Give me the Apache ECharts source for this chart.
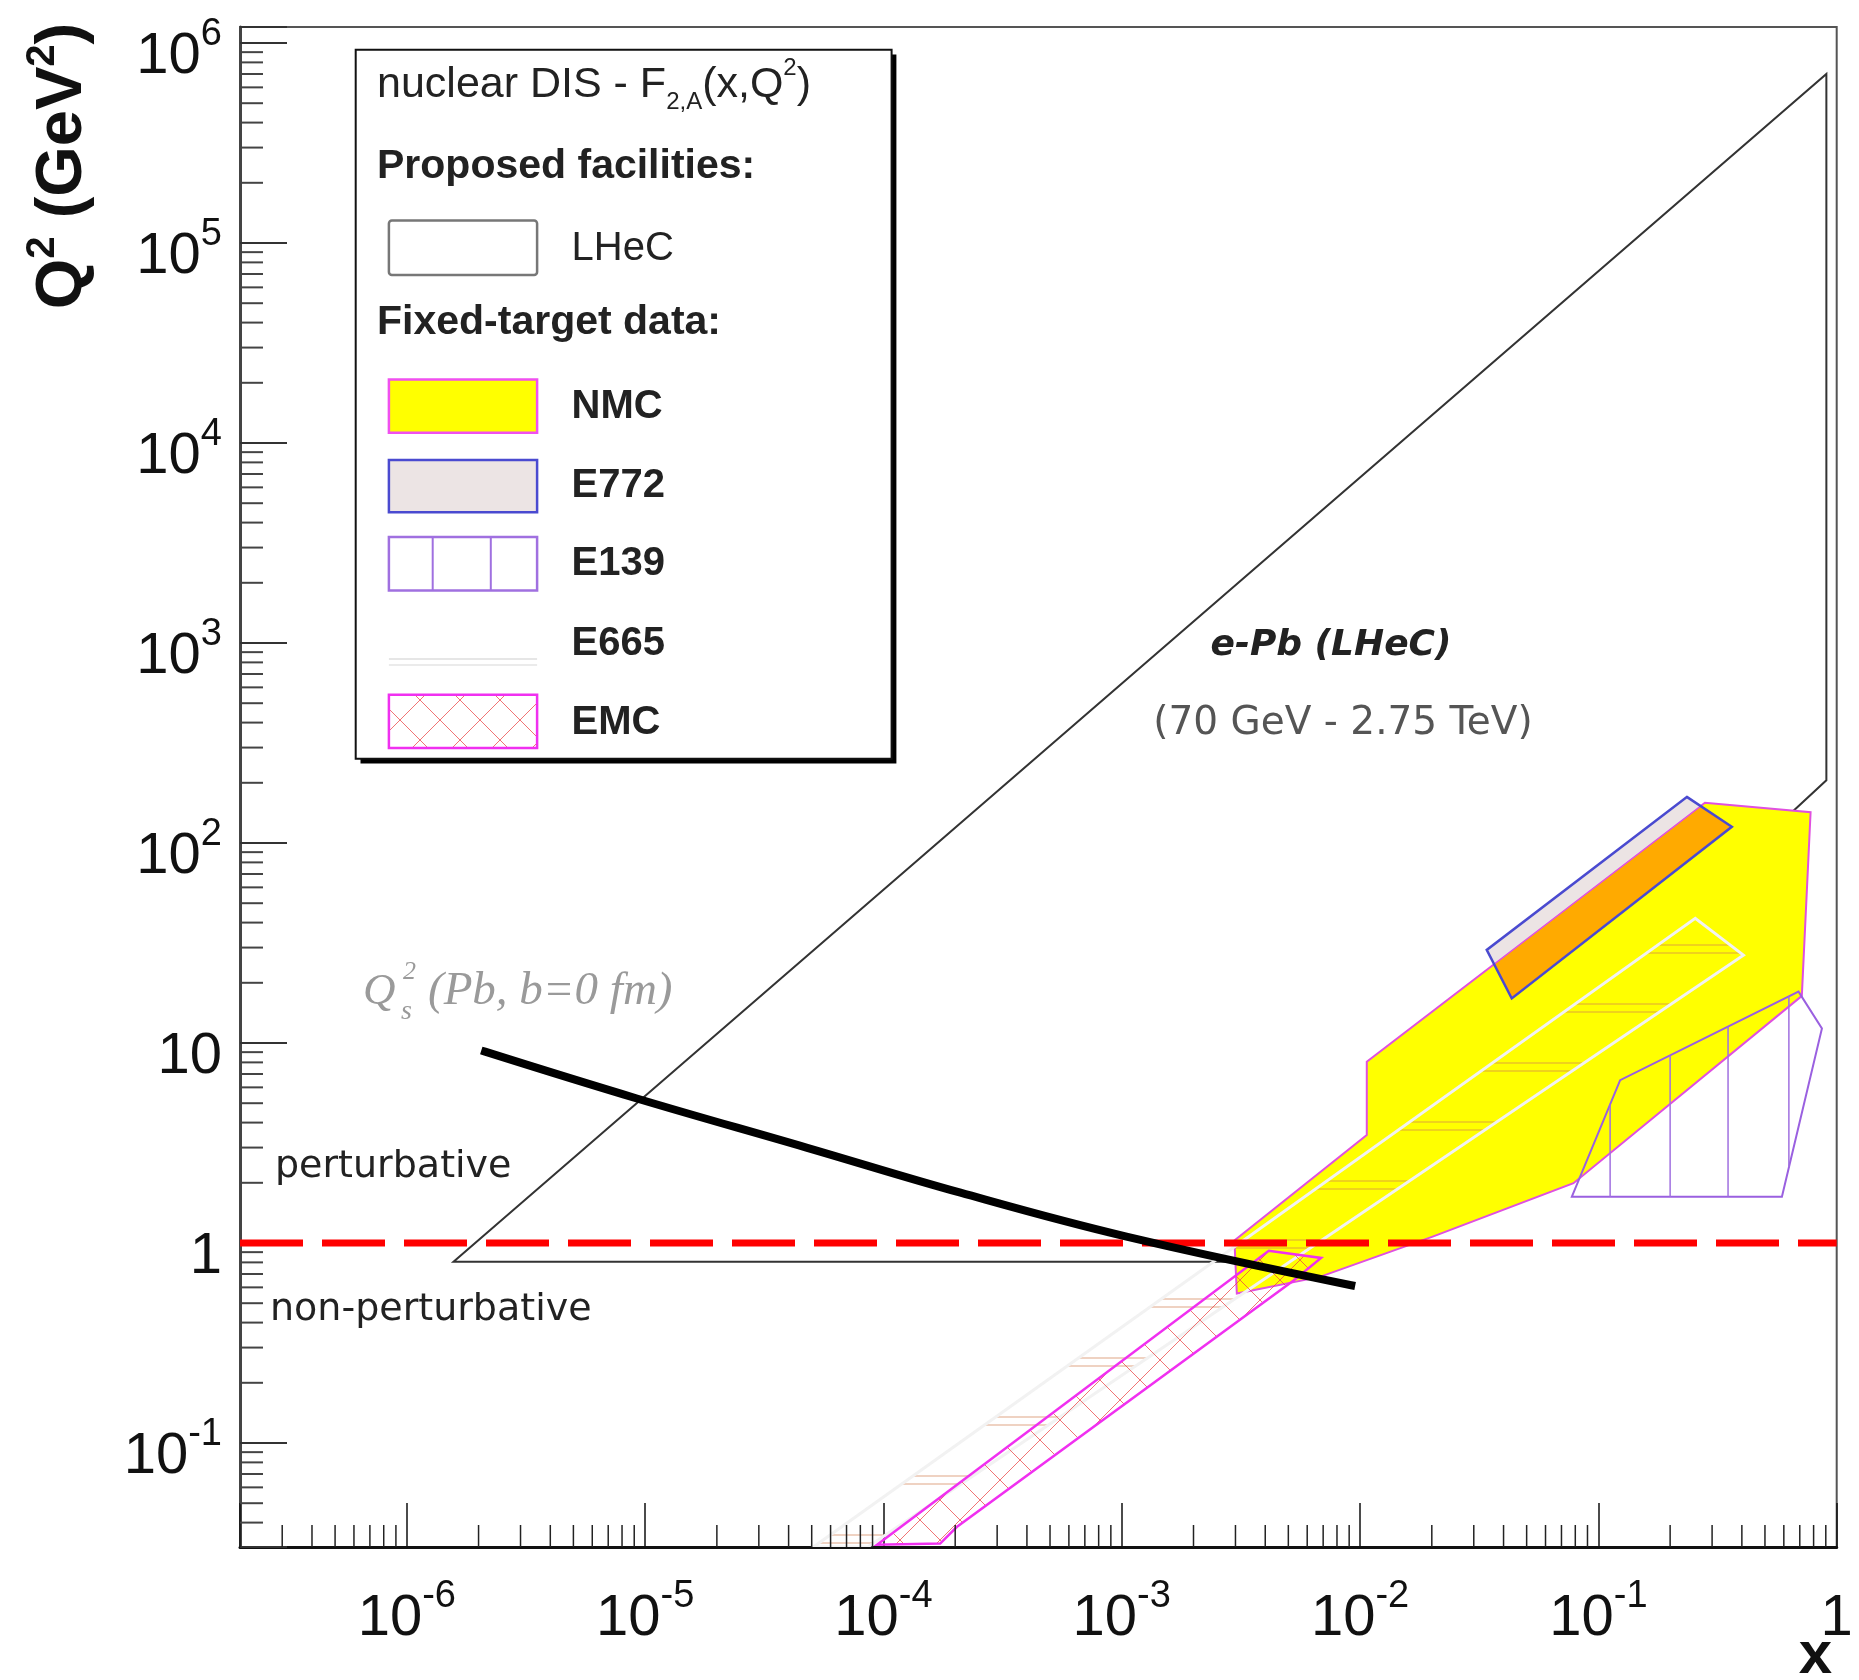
<!DOCTYPE html>
<html><head><meta charset="utf-8">
<script src="https://cdn.jsdelivr.net/npm/echarts@6/dist/echarts.min.js"></script>
<style>html,body{margin:0;padding:0;background:#fff}#c{width:1859px;height:1680px}</style>
</head><body><div id="c"></div>
<script>
// ---------------- data ----------------
const xRange = [Math.pow(10, -6.7), 1];
const yRange = [Math.pow(10, -1.52), Math.pow(10, 6.08)];
const xTickDecades = [-7, -6, -5, -4, -3, -2, -1];
const yTickDecades = [-2, -1, 0, 1, 2, 3, 4, 5, 6];
const minorMultipliers = [2, 3, 4, 5, 6, 7, 8, 9];

// polygons: [x, Q2] vertices
const lhecRegion = [[1.57e-6, 0.806], [0.905, 7.0e5], [0.905, 206], [6.0e-3, 0.806]];
const nmcRegion = [[3.04e-3, 0.559], [2.97e-3, 1.03], [0.01067, 3.47], [0.01067, 8.06], [0.28, 159],
                   [0.777, 142.6], [0.714, 17.2], [0.0786, 1.99], [0.0203, 1.08], [6.78e-3, 0.677]];
const e772Region = [[0.235, 170], [0.363, 120.5], [0.0433, 16.7], [0.034, 29.2]];
const e139Region = [[0.0774, 1.705], [0.1234, 6.52], [0.6915, 18.06], [0.867, 11.83], [0.589, 1.705]];
const e139HatchX = [0.112, 0.2, 0.35, 0.63];
const e665Region = [[5.08e-5, 0.0302], [0.255, 42], [0.406, 27.5], [8.6e-5, 0.0302]];
const emcRegion = [[9.4e-5, 0.031], [4.14e-3, 0.914], [6.86e-3, 0.842], [5.26e-3, 0.65], [2.03e-4, 0.038], [1.73e-4, 0.0314]];

// saturation scale curve Q_s^2 (Pb, b=0 fm)
const qsX = [2.13e-6, 9.23e-6, 4.75e-5, 2.105e-4, 1.047e-3, 9.18e-3];
const qsQ2 = [9.05, 5.28, 3.0, 1.784, 1.076, 0.615];
// perturbative / non-perturbative boundary
const pertBoundaryQ2 = 1;

// ---------------- helpers ----------------
function makeCanvas(w, h, draw) {
  const c = document.createElement('canvas'); c.width = w; c.height = h;
  draw(c.getContext('2d')); return c;
}
const hatchE665 = makeCanvas(8, 59, g => {
  g.fillStyle = 'rgba(210,125,80,0.35)';
  g.fillRect(0, 0, 8, 2); g.fillRect(0, 8, 8, 2);
});
const hatchEMC = makeCanvas(40, 40, g => {
  g.strokeStyle = 'rgba(235,70,70,0.75)'; g.lineWidth = 1;
  g.beginPath(); g.moveTo(0, 0); g.lineTo(40, 40); g.moveTo(40, 0); g.lineTo(0, 40); g.stroke();
});
const patE665 = { image: hatchE665, repeat: 'repeat' };
const patEMC = { image: hatchEMC, repeat: 'repeat' };

function clipConvex(subject, clip) {
  let area = 0;
  for (let i = 0; i < clip.length; i++) {
    const a = clip[i], b = clip[(i + 1) % clip.length];
    area += a[0] * b[1] - b[0] * a[1];
  }
  const sgn = area > 0 ? 1 : -1;
  let out = subject.slice();
  for (let i = 0; i < clip.length && out.length; i++) {
    const A = clip[i], B = clip[(i + 1) % clip.length];
    const inside = p => sgn * ((B[0] - A[0]) * (p[1] - A[1]) - (B[1] - A[1]) * (p[0] - A[0])) >= 0;
    const inter = (P, Q) => {
      const a1 = B[1] - A[1], b1 = A[0] - B[0], c1 = a1 * A[0] + b1 * A[1];
      const a2 = Q[1] - P[1], b2 = P[0] - Q[0], c2 = a2 * P[0] + b2 * P[1];
      const det = a1 * b2 - a2 * b1;
      return [(b2 * c1 - b1 * c2) / det, (a1 * c2 - a2 * c1) / det];
    };
    const inp = out; out = [];
    for (let j = 0; j < inp.length; j++) {
      const E = inp[j], S = inp[(j + inp.length - 1) % inp.length];
      if (inside(E)) { if (!inside(S)) out.push(inter(S, E)); out.push(E); }
      else if (inside(S)) out.push(inter(S, E));
    }
  }
  return out;
}
function verticalChord(pts, px) {
  const ys = [];
  for (let i = 0; i < pts.length; i++) {
    const P = pts[i], Q = pts[(i + 1) % pts.length];
    if ((P[0] - px) * (Q[0] - px) <= 0 && P[0] !== Q[0]) ys.push(P[1] + (px - P[0]) * (Q[1] - P[1]) / (Q[0] - P[0]));
  }
  if (ys.length < 2) return null;
  return [Math.min.apply(null, ys), Math.max.apply(null, ys)];
}
function polySeries(name, verts, z, build) {
  return {
    name, type: 'custom', coordinateSystem: 'cartesian2d', data: [verts[0]], z, silent: true, clip: true,
    renderItem: (params, api) => build(verts.map(v => api.coord(v)), api)
  };
}

const xMinor = [], yMinor = [];
xTickDecades.forEach(d => minorMultipliers.forEach(m => { const v = m * Math.pow(10, d); if (v > xRange[0] && v < xRange[1]) xMinor.push(v); }));
yTickDecades.forEach(d => minorMultipliers.forEach(m => { const v = m * Math.pow(10, d); if (v > yRange[0] && v < yRange[1]) yMinor.push(v); }));

const FONT = '"Liberation Sans", Arial, Helvetica, sans-serif';
const tickRich = {
  b: { fontSize: 58, fontFamily: FONT, color: '#111', lineHeight: 70, verticalAlign: 'bottom' },
  s: { fontSize: 38, fontFamily: FONT, color: '#111', lineHeight: 20, verticalAlign: 'top' }
};
function tickFmt(v) {
  const l = Math.log10(v), e = Math.round(l);
  if (Math.abs(l - e) > 1e-6) return '';
  if (e === 0) return '{b|1}';
  if (e === 1) return '{b|10}';
  return '{b|10}{s|' + e + '}';
}

// ---------------- chart ----------------
const chart = echarts.init(document.getElementById('c'), null, { renderer: 'canvas', width: 1859, height: 1680 });

const series = [
  polySeries('LHeC', lhecRegion, 2, pts => ({ type: 'polygon', shape: { points: pts }, style: { fill: '#ffffff', stroke: '#333', lineWidth: 2 } })),
  polySeries('NMC', nmcRegion, 3, pts => ({ type: 'polygon', shape: { points: pts }, style: { fill: '#ffff00', stroke: '#e050e0', lineWidth: 2 } })),
  polySeries('E772', e772Region, 4, (pts, api) => {
    const nmcPts = nmcRegion.map(v => api.coord(v));
    const overlap = clipConvex(nmcPts, pts);
    return {
      type: 'group', children: [
        { type: 'polygon', shape: { points: pts }, style: { fill: '#ece4e4', stroke: null } },
        { type: 'polygon', shape: { points: overlap }, style: { fill: '#ffaa00', stroke: '#e050e0', lineWidth: 1.5 } },
        { type: 'polygon', shape: { points: pts }, style: { fill: null, stroke: '#4a4ad0', lineWidth: 2.5 } }
      ]
    };
  }),
  polySeries('E665', e665Region, 6, pts => ({ type: 'polygon', shape: { points: pts }, style: { fill: patE665, stroke: '#f2f2f2', lineWidth: 3 } })),
  polySeries('E139', e139Region, 7, (pts, api) => {
    const children = [{ type: 'polygon', shape: { points: pts }, style: { fill: null, stroke: '#9a60e0', lineWidth: 2 } }];
    e139HatchX.forEach(hx => {
      const px = api.coord([hx, 1])[0];
      const ch = verticalChord(pts, px);
      if (ch) children.push({ type: 'line', shape: { x1: px, y1: ch[0], x2: px, y2: ch[1] }, style: { stroke: '#a070e0', lineWidth: 1.5 } });
    });
    return { type: 'group', children };
  }),
  polySeries('EMC', emcRegion, 8, pts => ({ type: 'polygon', shape: { points: pts }, style: { fill: patEMC, stroke: '#f030f0', lineWidth: 2.5 } })),
  {
    name: 'boundary', type: 'line', z: 9, silent: true, showSymbol: false, symbol: 'none',
    data: [[xRange[0], pertBoundaryQ2], [xRange[1], pertBoundaryQ2]],
    lineStyle: { color: '#ff0000', width: 7, type: [63, 19] }
  },
  {
    name: 'Qs', type: 'line', z: 10, silent: true, showSymbol: false, symbol: 'none', smooth: 0.4,
    data: qsX.map((x, i) => [x, qsQ2[i]]),
    lineStyle: { color: '#000', width: 8, cap: 'square' }
  },
  {
    name: 'xMinor', type: 'custom', coordinateSystem: 'cartesian2d', z: 20, silent: true, clip: false,
    data: xMinor.map(v => [v, yRange[0]]),
    renderItem: (p, api) => { const pt = api.coord([api.value(0), api.value(1)]); return { type: 'line', shape: { x1: pt[0], y1: pt[1], x2: pt[0], y2: pt[1] - 22 }, style: { stroke: '#222', lineWidth: 1.5 } }; }
  },
  {
    name: 'yMinor', type: 'custom', coordinateSystem: 'cartesian2d', z: 20, silent: true, clip: false,
    data: yMinor.map(v => [xRange[0], v]),
    renderItem: (p, api) => { const pt = api.coord([api.value(0), api.value(1)]); return { type: 'line', shape: { x1: pt[0], y1: pt[1], x2: pt[0] + 23, y2: pt[1] }, style: { stroke: '#444', lineWidth: 2 } }; }
  }
];

function txt(x, y, text, o) {
  o = o || {};
  return {
    type: 'text', x, y, z: 100, rotation: o.rotation || 0, silent: true,
    style: Object.assign({ text, fontSize: 40, fontFamily: FONT, fill: '#222', align: 'left', verticalAlign: 'middle' }, o.style || {})
  };
}
const LX = 388.9, LW = 148.2, TX = 571.5;
const graphics = [
  // legend
  { type: 'rect', z: 99, silent: true, shape: { x: 360.5, y: 54.6, width: 535.9, height: 709 }, style: { fill: '#000' } },
  { type: 'rect', z: 99, silent: true, shape: { x: 355.7, y: 49.8, width: 535.9, height: 709 }, style: { fill: '#fff', stroke: '#111', lineWidth: 2 } },
  txt(377, 85, 'nuclear DIS - F{sub|2,A}(x,Q{sup|2})', { style: { fontSize: 43, lineHeight: 58, rich: {
    sub: { fontSize: 24, fontFamily: FONT, fill: '#222', lineHeight: 28, verticalAlign: 'bottom' },
    sup: { fontSize: 24, fontFamily: FONT, fill: '#222', lineHeight: 28, verticalAlign: 'top' } } } }),
  txt(377, 167, 'Proposed facilities:', { style: { fontSize: 41, fontWeight: 'bold' } }),
  { type: 'rect', z: 100, silent: true, shape: { x: LX, y: 220.5, width: LW, height: 54.6, r: 3 }, style: { fill: '#ffffff', stroke: '#777', lineWidth: 2.5 } },
  txt(TX, 249, 'LHeC', { style: { fontSize: 40 } }),
  txt(377, 322.5, 'Fixed-target data:', { style: { fontSize: 41, fontWeight: 'bold' } }),
  { type: 'rect', z: 100, silent: true, shape: { x: LX, y: 379.4, width: LW, height: 53.3 }, style: { fill: '#ffff00', stroke: '#f050f0', lineWidth: 2.5 } },
  txt(TX, 406.7, 'NMC', { style: { fontSize: 40, fontWeight: 'bold' } }),
  { type: 'rect', z: 100, silent: true, shape: { x: LX, y: 460, width: LW, height: 52.2 }, style: { fill: '#ece4e4', stroke: '#4a4ad0', lineWidth: 2.5 } },
  txt(TX, 486, 'E772', { style: { fontSize: 40, fontWeight: 'bold' } }),
  { type: 'rect', z: 100, silent: true, shape: { x: LX, y: 537, width: LW, height: 53.4 }, style: { fill: '#fff', stroke: '#a070e0', lineWidth: 2.5 } },
  { type: 'line', z: 100, silent: true, shape: { x1: 432.7, y1: 537, x2: 432.7, y2: 590.4 }, style: { stroke: '#a070e0', lineWidth: 2 } },
  { type: 'line', z: 100, silent: true, shape: { x1: 490.8, y1: 537, x2: 490.8, y2: 590.4 }, style: { stroke: '#a070e0', lineWidth: 2 } },
  txt(TX, 564.3, 'E139', { style: { fontSize: 40, fontWeight: 'bold' } }),
  { type: 'line', z: 100, silent: true, shape: { x1: LX, y1: 659, x2: LX + LW, y2: 659 }, style: { stroke: '#dedede', lineWidth: 1.5 } },
  { type: 'line', z: 100, silent: true, shape: { x1: LX, y1: 665, x2: LX + LW, y2: 665 }, style: { stroke: '#e4e4e4', lineWidth: 1.5 } },
  txt(TX, 643.8, 'E665', { style: { fontSize: 40, fontWeight: 'bold' } }),
  { type: 'rect', z: 100, silent: true, shape: { x: LX, y: 694.7, width: LW, height: 53.4 }, style: { fill: '#fff' } },
  { type: 'rect', z: 100, silent: true, shape: { x: LX, y: 694.7, width: LW, height: 53.4 }, style: { fill: patEMC, stroke: '#f030f0', lineWidth: 2.5 } },
  txt(TX, 723.2, 'EMC', { style: { fontSize: 40, fontWeight: 'bold' } }),

  // annotations in the plot
  txt(1331, 646, 'e-Pb (LHeC)', { style: { fontFamily: '"DejaVu Sans", sans-serif', fontSize: 36, fontWeight: 'bold', fontStyle: 'italic', fill: '#222', align: 'center' } }),
  txt(1343, 724, '(70 GeV - 2.75 TeV)', { style: { fontFamily: '"DejaVu Sans", sans-serif', fontSize: 39, fill: '#555', align: 'center' } }),
  txt(275, 1167, 'perturbative', { style: { fontFamily: '"DejaVu Sans", sans-serif', fontSize: 38, fill: '#222' } }),
  txt(270, 1310, 'non-perturbative', { style: { fontFamily: '"DejaVu Sans", sans-serif', fontSize: 38, fill: '#222' } }),
  txt(363, 992, 'Q', { style: { fontFamily: '"Liberation Serif", serif', fontSize: 45, fontStyle: 'italic', fill: '#9a9a9a' } }),
  txt(403, 972, '2', { style: { fontFamily: '"Liberation Serif", serif', fontSize: 26, fontStyle: 'italic', fill: '#9a9a9a' } }),
  txt(401, 1012, 's', { style: { fontFamily: '"Liberation Serif", serif', fontSize: 28, fontStyle: 'italic', fill: '#9a9a9a' } }),
  txt(428, 992, '(Pb, b=0 fm)', { style: { fontFamily: '"Liberation Serif", serif', fontSize: 47, fontStyle: 'italic', fill: '#9a9a9a' } }),

  // axis titles
  txt(63, 166, 'Q{sup|2} (GeV{sup|2})', { rotation: Math.PI / 2, style: { fontSize: 65, fontWeight: 'bold', fill: '#111', align: 'center', lineHeight: 80, rich: {
    sup: { fontSize: 40, fontWeight: 'bold', fontFamily: FONT, fill: '#111', lineHeight: 40, verticalAlign: 'top' } } } }),
  txt(1832, 1656, 'x', { style: { fontSize: 60, fontWeight: 'bold', fill: '#111', align: 'right' } })
];

chart.setOption({
  animation: false,
  backgroundColor: '#fff',
  grid: { left: 240, top: 27, width: 1596.7, height: 1520, show: true, borderColor: '#555', borderWidth: 2, backgroundColor: 'transparent', containLabel: false, outerBoundsMode: 'none' },
  xAxis: {
    type: 'log', logBase: 10, min: xRange[0], max: xRange[1],
    axisLine: { onZero: false, lineStyle: { color: '#111', width: 3 } },
    axisTick: { inside: true, length: 44, lineStyle: { color: '#111', width: 1.5 } },
    splitLine: { show: false }, minorTick: { show: false },
    axisLabel: { margin: 31, formatter: tickFmt, rich: tickRich, showMinLabel: true, showMaxLabel: true, hideOverlap: false }
  },
  yAxis: {
    type: 'log', logBase: 10, min: yRange[0], max: yRange[1],
    axisLine: { onZero: false, lineStyle: { color: '#444', width: 3 } },
    axisTick: { inside: true, length: 47, lineStyle: { color: '#333', width: 2 } },
    splitLine: { show: false }, minorTick: { show: false },
    axisLabel: { margin: 18, padding: [16, 0, 0, 0], formatter: tickFmt, rich: tickRich, hideOverlap: false }
  },
  series,
  graphic: { elements: graphics }
});
</script>
</body></html>
